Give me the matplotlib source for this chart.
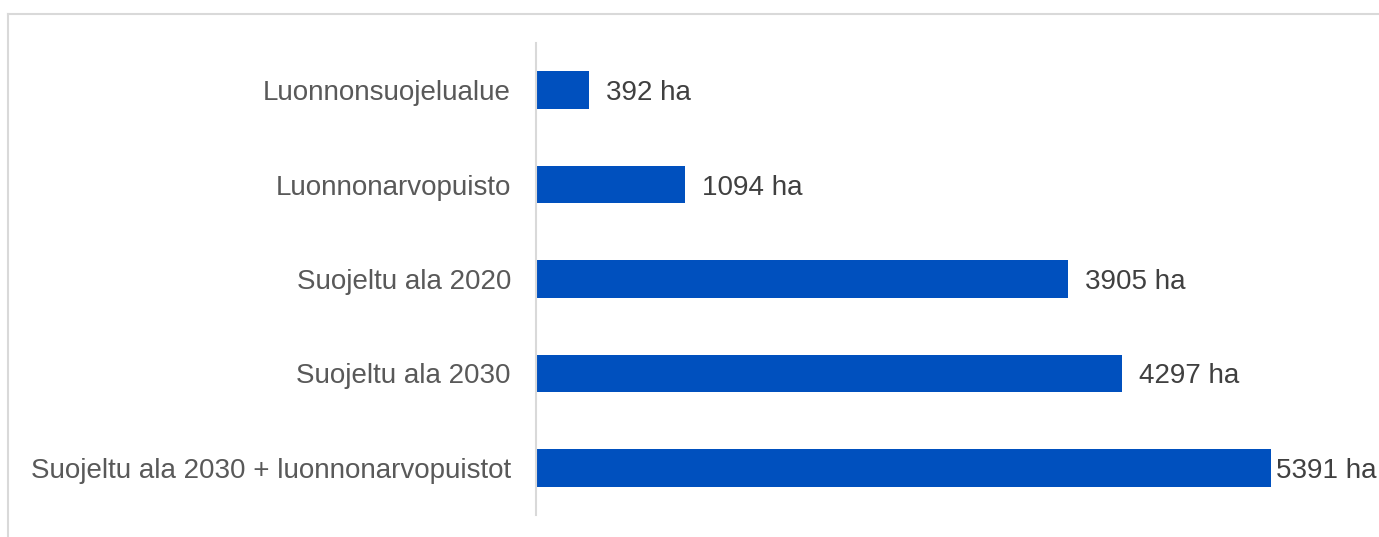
import matplotlib
matplotlib.use("Agg")
import matplotlib.pyplot as plt
from matplotlib.lines import Line2D

# data
categories = ["Luonnonsuojelualue", "Luonnonarvopuisto", "Suojeltu ala 2020",
              "Suojeltu ala 2030", "Suojeltu ala 2030 + luonnonarvopuistot"]
values = [392, 1094, 3905, 4297, 5391]

plt.rcParams['font.family'] = ['Liberation Sans', 'DejaVu Sans']

W, H = 1379, 537
fig = plt.figure(figsize=(W / 100, H / 100), dpi=100)

# axes placed in pixel terms
left, right, top, bottom = 536, 1379, 43, 515
ax = fig.add_axes([left / W, 1 - bottom / H, (right - left) / W, (bottom - top) / H])

ypos = list(range(len(categories)))
ax.barh(ypos, values, height=0.40, color="#0050BE")
ax.set_ylim(len(categories) - 0.5, -0.5)
xmax = 5391 * (right - left) / (1271 - left)
ax.set_xlim(0, xmax)

# value labels, pushed back inside the figure if they would run off the edge
renderer = fig.canvas.get_renderer()
for y, v in zip(ypos, values):
    t = ax.annotate(f"{v} ha", (v, y), xytext=(12, 0), textcoords="offset points",
                    va="center_baseline", ha="left", fontsize=20, color="#404040")
    bb = t.get_window_extent(renderer)
    if bb.x1 > W - 2:
        t.set_position((max(3, 12 - (bb.x1 - (W - 2)) * 0.72), 0))

ax.set_yticks(ypos)
ax.set_yticklabels(categories, fontsize=20, color="#595959")
ax.tick_params(axis="y", length=0, pad=18)
ax.set_xticks([])
for s in ["top", "right", "bottom"]:
    ax.spines[s].set_visible(False)
ax.spines["left"].set_color("#D9D9D9")
ax.spines["left"].set_linewidth(1.5)

# outer frame lines (top and left)
fig.add_artist(Line2D([8 / W, 1], [1 - 14 / H, 1 - 14 / H], color="#D9D9D9", lw=1.5, transform=fig.transFigure))
fig.add_artist(Line2D([8 / W, 8 / W], [0, 1 - 14 / H], color="#D9D9D9", lw=1.5, transform=fig.transFigure))

fig.savefig("out.png", dpi=100)
